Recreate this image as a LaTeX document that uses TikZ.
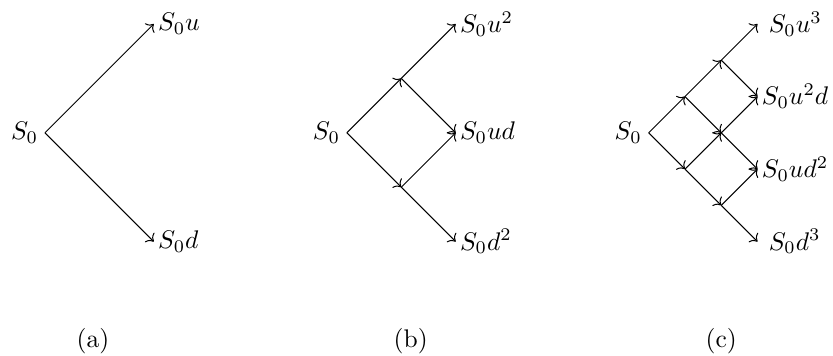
\documentclass[tikz,border=0pt]{standalone}
\usetikzlibrary{arrows.meta,positioning}

\begin{document}
\begin{tikzpicture}[>=To,
 root/.style={anchor=east,inner sep=2.5pt},
 leaf/.style={anchor=west,inner sep=1.5pt},
 caption/.style={inner sep=0pt}]
\useasboundingbox (-0.62,-3.07) rectangle (10.86,1.83);
% (a) one step
\coordinate (a0) at (0,0);
\node[root] (a0l) at (a0) {$S_0$};
\node[leaf] (au) at (1.5,1.5) {$S_0u$};
\node[leaf] (ad) at (1.5,-1.5) {$S_0d$};
\draw[->] (a0) -- (au.west);
\draw[->] (a0) -- (ad.west);
\node[caption] (acap) at (0.66,-2.87) {(a)};
% (b) two steps
\coordinate (b0) at (4.16,0);
\node[root] (b0l) at (b0) {$S_0$};
\coordinate (bu) at (4.91,0.75);
\coordinate (bd) at (4.91,-0.75);
\node[leaf] (buu) at (5.66,1.5) {$S_0u^2$};
\node[leaf] (bud) at (5.66,0) {$S_0ud$};
\node[leaf] (bdd) at (5.66,-1.5) {$S_0d^2$};
\draw[->] (b0) -- (bu);
\draw[->] (b0) -- (bd);
\draw[->] (bu) -- (buu.west);
\draw[->] (bu) -- (bud.west);
\draw[->] (bd) -- (bud.west);
\draw[->] (bd) -- (bdd.west);
\node[caption] (bcap) at (5.04,-2.87) {(b)};
% (c) three steps
\coordinate (c0) at (8.32,0);
\node[root] (c0l) at (c0) {$S_0$};
\coordinate (cu) at (8.82,0.5);
\coordinate (cd) at (8.82,-0.5);
\coordinate (cuu) at (9.32,1);
\coordinate (cud) at (9.32,0);
\coordinate (cdd) at (9.32,-1);
\node[leaf,inner xsep=4.2pt] (cuuu) at (9.82,1.5) {$S_0u^3$};
\node[leaf] (cuud) at (9.82,0.5) {$S_0u^2d$};
\node[leaf] (cudd) at (9.82,-0.5) {$S_0ud^2$};
\node[leaf,inner xsep=4.2pt] (cddd) at (9.82,-1.5) {$S_0d^3$};
\draw[->] (c0) -- (cu);
\draw[->] (c0) -- (cd);
\draw[->] (cu) -- (cuu);
\draw[->] (cu) -- (cud);
\draw[->] (cd) -- (cud);
\draw[->] (cd) -- (cdd);
\draw[->] (cuu) -- (cuuu.west);
\draw[->] (cuu) -- (cuud.west);
\draw[->] (cud) -- (cuud.west);
\draw[->] (cud) -- (cudd.west);
\draw[->] (cdd) -- (cudd.west);
\draw[->] (cdd) -- (cddd.west);
\node[caption] (ccap) at (9.32,-2.87) {(c)};
\end{tikzpicture}
\end{document}
